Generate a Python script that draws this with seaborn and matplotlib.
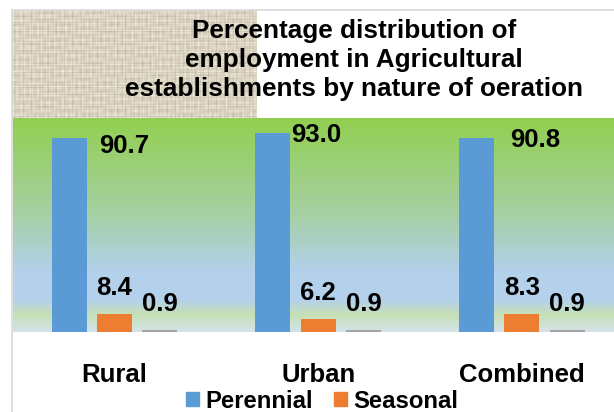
import numpy as np
import pandas as pd
import matplotlib
matplotlib.use("Agg")
import matplotlib.pyplot as plt
from matplotlib.colors import LinearSegmentedColormap
from matplotlib.patches import Patch
import seaborn as sns

# ---------------------------------------------------------
# DATA
# ---------------------------------------------------------
areas = ["Rural", "Urban", "Combined"]
op_types = ["Perennial", "Seasonal", "Other"]
perennial = [90.7, 93.0, 90.8]
seasonal = [8.4, 6.2, 8.3]
other = [0.9, 0.9, 0.9]

title = ("Percentage distribution of\n"
         "employment in Agricultural\n"
         "establishments by nature of oeration")

df = pd.DataFrame({
    "area": areas * 3,
    "type": np.repeat(op_types, 3),
    "value": perennial + seasonal + other,
})

colors = ["#5B9BD5", "#ED7D31", "#A5A5A5"]

# label offsets for the blue bars (pixels, from bar top-centre)
blue_dx = [55, 43, 59]
blue_dy = [-8, -2.5, -2.5]

# ---------------------------------------------------------
# FIGURE
# ---------------------------------------------------------
sns.set_style("white")
plt.rcParams["font.family"] = ["Liberation Sans", "DejaVu Sans"]
plt.rcParams["text.color"] = "black"
plt.rcParams["xtick.color"] = "black"

W, H = 614, 412
fig = plt.figure(figsize=(W / 100, H / 100), dpi=100)

def px_box(x0, y0, x1, y1):
    # pixel box (top-left origin) -> figure fraction rect
    return [x0 / W, 1 - y1 / H, (x1 - x0) / W, (y1 - y0) / H]

# textured title patch (woven look)
tex = fig.add_axes(px_box(12, 10, 257, 118))
yy, xx = np.mgrid[0:108, 0:245]
weave = (np.sin(xx * 1.9) * np.sin(xx * 0.37 + 1.0) * 0.6
         + np.sin(yy * 2.3) * np.sin(yy * 0.29 + 2.0) * 0.6
         + 0.5 * np.sin(xx * 0.13 + yy * 0.07) * np.sin(yy * 0.8)
         + 0.4 * np.sin(xx * 0.9 + 0.5) * np.sin(yy * 0.21 + xx * 0.02))
base = np.array([219, 211, 194]) / 255.0
img = np.clip(base[None, None, :] + weave[..., None] * 0.07, 0, 1)
tex.imshow(img, aspect="auto", interpolation="bilinear")
tex.set_axis_off()

# gradient behind the bars
bg = fig.add_axes(px_box(13, 118, 614, 332))
grad_cmap = LinearSegmentedColormap.from_list("bg", [
    (0.00, "#92D050"),
    (0.45, "#A6CFA4"),
    (0.72, "#B4D1EC"),
    (0.85, "#B4D1EC"),
    (0.92, "#C6E0B6"),
    (1.00, "#D4E3EA"),
])
bg.imshow(np.linspace(0, 1, 256)[:, None], cmap=grad_cmap, aspect="auto",
          extent=[0, 1, 0, 1])
bg.set_axis_off()

# frame lines
fig.add_artist(plt.Line2D([12 / W, 1], [1 - 9.5 / H] * 2, color="#D9D9D9", lw=1.2))
fig.add_artist(plt.Line2D([12 / W] * 2, [0, 1 - 9.5 / H], color="#D9D9D9", lw=1.2))

# bars
ax = fig.add_axes(px_box(13, 118, 614, 332))
ax.patch.set_alpha(0)
sns.barplot(data=df, x="area", y="value", hue="type", palette=colors,
            width=0.667, gap=0.226, ax=ax, legend=False, saturation=1,
            linewidth=0)
ax.set_xlim(-0.498, 2.452)
ax.set_ylim(0, 100)
ax.set_xlabel("")
ax.set_ylabel("")
ax.set_yticks([])
sns.despine(ax=ax, left=True, bottom=True)
ax.tick_params(axis="x", length=0, pad=22, labelsize=18.5, labelcolor="black")
for t in ax.get_xticklabels():
    t.set_fontweight("bold")

# value labels
for i, cont in enumerate(ax.containers):
    for j, bar in enumerate(cont):
        cx = bar.get_x() + bar.get_width() / 2
        top = bar.get_height()
        txt = f"{top:.1f}"
        off = (blue_dx[j], blue_dy[j]) if i == 0 else (0, 26)
        ax.annotate(txt, (cx, top), xytext=off,
                    textcoords="offset pixels", ha="center", va="center",
                    fontsize=18.5, fontweight="bold", color="black")

# title
fig.text(354 / W, 1 - 60 / H, title, ha="center", va="center",
         fontsize=18.8, fontweight="bold", linespacing=1.27, color="black")

# legend (only the first two entries fit)
handles = [Patch(color=colors[0], label=op_types[0]),
           Patch(color=colors[1], label=op_types[1])]
fig.legend(handles=handles, loc="center", bbox_to_anchor=(322 / W, 1 - 401 / H),
           ncol=2, frameon=False, handlelength=0.55,
           handleheight=0.55, handletextpad=0.25, columnspacing=0.9,
           prop={"weight": "bold", "size": 17.2})

fig.savefig("out.png", dpi=100)
